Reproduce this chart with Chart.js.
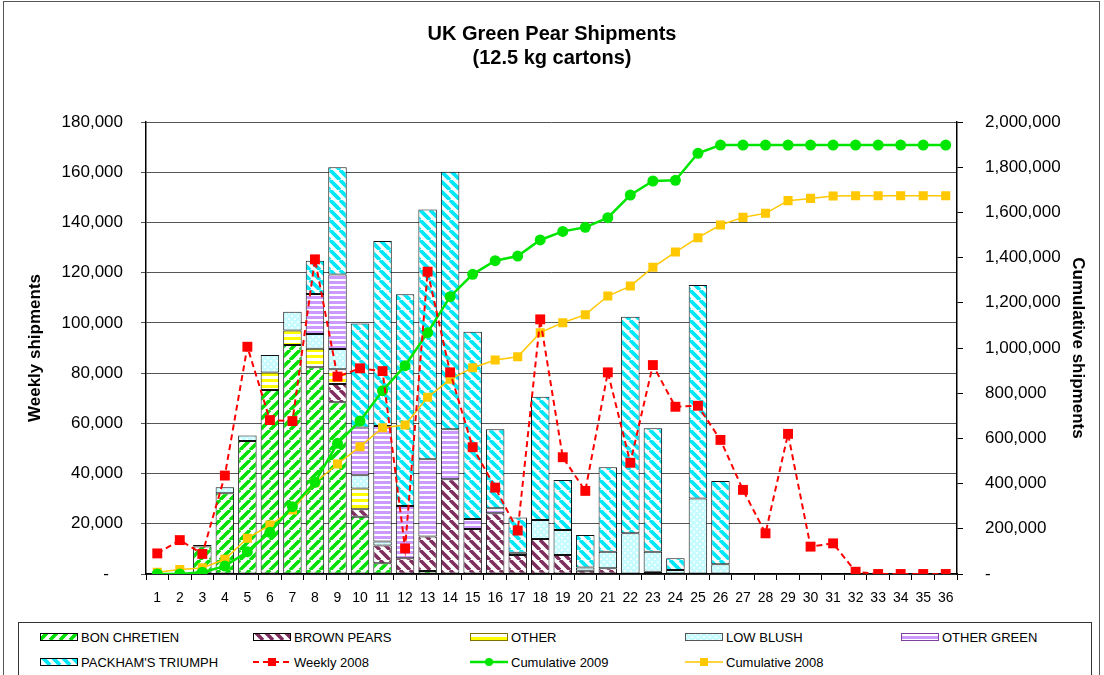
<!DOCTYPE html>
<html>
<head>
<meta charset="utf-8">
<script src="https://cdn.jsdelivr.net/npm/chart.js@4.4.1/dist/chart.umd.min.js"></script>
<style>
    html, body { margin: 0; padding: 0; background: #fff; }
    #wrap { position: relative; width: 1104px; height: 675px; overflow: hidden; }
    #frame { position: absolute; left: 3px; top: 1px; width: 1097px; height: 720px; border: 1px solid #555; box-sizing: border-box; pointer-events: none; }
    #legend { position: absolute; left: 18px; top: 622px; width: 1074px; height: 70px; border: 1px solid #333; box-sizing: border-box; background: #fff;
              font: 13px "Liberation Sans", Arial, sans-serif; color: #000; }
    .item { position: absolute; display: flex; align-items: center; white-space: nowrap; }
    .item canvas { margin-right: 3px; }
</style>
</head>
<body>
<div id="wrap">
    <canvas id="pears" width="1104" height="675"></canvas>
    <div id="frame"></div>
    <div id="legend"></div>
</div>
<script>
const weeks = ['1', '2', '3', '4', '5', '6', '7', '8', '9', '10', '11', '12', '13', '14', '15', '16', '17', '18',
    '19', '20', '21', '22', '23', '24', '25', '26', '27', '28', '29', '30', '31', '32', '33', '34', '35', '36'];

// weekly shipments 2009 by variety (cartons), weeks 1..26, nothing after
const bonChretien = [null, null, 11000, 32200, 53000, 73300, 91200, 82300, 68400, 22800, 4300, null, 1200];
const brownPears = [null, null, null, null, null, null, null, null, 7300, 3000, 7000, 6250, 13700, 37700, 17900, 24150,
    7600, 13900, 7600, 1300, 2300, null, 900];
const other = [null, null, null, null, null, 6900, 5800, 7400, 5800, 8250];
const lowBlush = [null, null, 500, 2300, 2200, 7000, 7400, 5850, 8100, 5300, 1600, null, null, null, null, null,
    900, 7600, 9900, 1300, 6600, 16200, 8000, 1600, 30100, 3850];
const otherGreen = [null, null, null, null, null, null, null, 16000, 29700, 19000, 46000, 20800, 30800, 19900, 4000, 2000];
const packhams = [null, null, null, null, null, null, null, 13200, 42700, 41400, 73700, 84400, 99500, 102600, 74600, 31450,
    14000, 49100, 19900, 12900, 33600, 86250, 49100, 4650, 85000, 33200];

const weekly2008 = [8200, 13500, 8000, 39200, 90500, 61300, 60900, 125300, 78600, 81900, 80800, 10200, 120400, 80300,
    50500, 34400, 17300, 101400, 46500, 33100, 80300, 44300, 83200, 66600, 67000, 53400, 33500, 16200, 55800, 10900,
    12200, 900, 0, 0, 0, 0];
const cumulative2009 = [0, 0, 8000, 35000, 98700, 184500, 297800, 405700, 578300, 677000, 811000, 921700, 1067800,
    1227000, 1326000, 1386400, 1407000, 1478000, 1516000, 1534000, 1576700, 1677000, 1739000, 1742000, 1861500, 1898000,
    1898000, 1898000, 1898000, 1898000, 1898000, 1898000, 1898000, 1898000, 1898000, 1898000];
const cumulative2008 = [8000, 20000, 27000, 65000, 158000, 216800, 283200, 404000, 486700, 563300, 647400, 659300,
    781800, 861500, 912800, 947000, 961600, 1067800, 1112000, 1147500, 1230000, 1274000, 1357000, 1424700, 1488000,
    1544000, 1578000, 1596000, 1652000, 1662000, 1672500, 1674000, 1674000, 1674000, 1674000, 1674000];

const FONT = '"Liberation Sans", Arial, sans-serif';

const tile = (w, h) => {
    const c = document.createElement('canvas');
    c.width = w; c.height = h;
    const g = c.getContext('2d');
    g.fillStyle = '#fff';
    g.fillRect(0, 0, w, h);
    return [c, g];
};

const diagonal = (color, dir, size, lw) => {
    const [c, g] = tile(size, size);
    g.strokeStyle = color;
    g.lineWidth = lw;
    g.beginPath();
    for (let k = -1; k <= 1; k++) {
        if (dir === '/') { g.moveTo(k * size, size); g.lineTo(k * size + size, 0); }
        else { g.moveTo(k * size, 0); g.lineTo(k * size + size, size); }
    }
    g.stroke();
    return g.createPattern(c, 'repeat');
};

const horizontal = (color, period, thick) => {
    const [c, g] = tile(4, period);
    g.fillStyle = color;
    g.fillRect(0, 1, 4, thick);
    return g.createPattern(c, 'repeat');
};

const checks = () => {
    const [c, g] = tile(6, 6);
    g.fillStyle = '#c6fbff';
    g.fillRect(0, 0, 6, 6);
    g.fillStyle = '#f2ffff';
    g.fillRect(0, 0, 2, 2);
    g.fillRect(3, 3, 2, 2);
    return g.createPattern(c, 'repeat');
};

const patterns = {
    bon: diagonal('#00e000', '/', 10, 3.6),
    brown: diagonal('#7f2f5f', '\\', 10, 3.6),
    other: horizontal('#ffff00', 6, 3),
    blush: checks(),
    otherGreen: horizontal('#cc99ff', 5, 3),
    packham: diagonal('#00e8f8', '\\', 10, 3.8)
};

const barSet = (label, data, fill, legendBorder) => ({
    type: 'bar',
    label: label,
    data: data,
    backgroundColor: fill,
    borderColor: '#111',
    borderWidth: 1,
    borderSkipped: false,
    barPercentage: 0.82,
    categoryPercentage: 1,
    yAxisID: 'y',
    stack: 'varieties',
    order: 5,
    legendBorder: legendBorder
});

const datasets = [
    barSet('BON CHRETIEN', bonChretien, patterns.bon, '#000'),
    barSet('BROWN PEARS', brownPears, patterns.brown, '#000'),
    barSet('OTHER', other, patterns.other, '#807000'),
    barSet('LOW BLUSH', lowBlush, patterns.blush, '#555'),
    barSet('OTHER GREEN', otherGreen, patterns.otherGreen, '#8040a0'),
    barSet("PACKHAM'S TRIUMPH", packhams, patterns.packham, '#000'),
    {
        type: 'line', label: 'Weekly 2008', data: weekly2008, yAxisID: 'y', stack: 'w2008', order: 0,
        borderColor: '#ff0000', borderWidth: 2, borderDash: [6, 4], tension: 0,
        pointStyle: 'rect', pointRadius: 7, pointBackgroundColor: '#ff0000', pointBorderColor: '#ff0000', pointBorderWidth: 0
    },
    {
        type: 'line', label: 'Cumulative 2009', data: cumulative2009, yAxisID: 'y1', order: 1,
        borderColor: '#00e600', borderWidth: 2.5, tension: 0,
        pointStyle: 'circle', pointRadius: 5.5, pointBackgroundColor: '#00e600', pointBorderColor: '#00e600', pointBorderWidth: 0
    },
    {
        type: 'line', label: 'Cumulative 2008', data: cumulative2008, yAxisID: 'y1', order: 2,
        borderColor: '#ffc800', borderWidth: 1.5, tension: 0,
        pointStyle: 'rect', pointRadius: 6.4, pointBackgroundColor: '#ffc800', pointBorderColor: '#ffc800', pointBorderWidth: 0
    }
];

const thousands = pad => v => v === 0 ? '-' + pad : v.toLocaleString('en-US');

const config = {
    type: 'bar',
    data: { labels: weeks, datasets: datasets },
    options: {
        responsive: false,
        animation: false,
        layout: { padding: { left: 0, right: 0, top: 0, bottom: 61 } },
        plugins: {
            legend: { display: false },
            tooltip: { enabled: false },
            title: {
                display: true,
                text: ['UK Green Pear Shipments', '(12.5 kg cartons)'],
                color: '#000',
                font: { family: FONT, size: 20, weight: 'bold', lineHeight: 1.2 },
                padding: { top: 22, bottom: 52 }
            }
        },
        scales: {
            x: {
                stacked: true,
                grid: { drawOnChartArea: false, offset: true, tickLength: 6, color: '#000' },
                border: { color: '#000', width: 1.5 },
                ticks: { color: '#000', font: { family: FONT, size: 14 }, padding: 10, maxRotation: 0, autoSkip: false },
                afterFit: s => { s.height = 40; }
            },
            y: {
                stacked: true,
                min: 0,
                max: 180000,
                ticks: { stepSize: 20000, color: '#000', font: { family: FONT, size: 17 }, padding: 18, callback: thousands('   ') },
                grid: { color: '#555', tickLength: 5 },
                border: { color: '#000', width: 1.5 },
                title: {
                    display: true, text: 'Weekly shipments', color: '#000',
                    font: { family: FONT, size: 17, weight: 'bold' }, padding: { top: 25, bottom: 0 }
                },
                afterFit: s => { s.width = 146; }
            },
            y1: {
                position: 'right',
                min: 0,
                max: 2000000,
                ticks: { stepSize: 200000, color: '#000', font: { family: FONT, size: 17 }, padding: 22, callback: thousands('') },
                grid: { drawOnChartArea: false, tickLength: 6, color: '#000' },
                border: { color: '#000', width: 1.5 },
                title: {
                    display: true, text: 'Cumulative shipments', color: '#000',
                    font: { family: FONT, size: 17, weight: 'bold' }, padding: { top: 16, bottom: 0 }
                },
                afterFit: s => { s.width = 147; }
            }
        }
    }
};

const ctx = document.getElementById('pears').getContext('2d');
const chart = new Chart(ctx, config);

// legend laid out in two rows of five like the spreadsheet one
const legendColumns = [39, 252, 469, 684, 900];
const legendRows = [636, 661];

const swatch = ds => {
    const c = document.createElement('canvas');
    c.width = 38; c.height = 14;
    const g = c.getContext('2d');
    if (ds.type === 'bar') {
        g.fillStyle = ds.backgroundColor;
        g.fillRect(0.5, 3.5, 37, 7);
        g.strokeStyle = ds.legendBorder;
        g.lineWidth = 1;
        g.strokeRect(0.5, 3.5, 37, 7);
    } else {
        g.strokeStyle = ds.borderColor;
        g.lineWidth = ds.borderWidth;
        g.setLineDash(ds.borderDash || []);
        g.beginPath();
        g.moveTo(0, 7);
        g.lineTo(38, 7);
        g.stroke();
        g.fillStyle = ds.pointBackgroundColor;
        g.beginPath();
        if (ds.pointStyle === 'circle') g.arc(19, 7, 4, 0, Math.PI * 2);
        else g.rect(15, 3, 8, 8);
        g.fill();
    }
    return c;
};

const buildLegend = () => {
    const box = document.getElementById('legend');
    chart.data.datasets.forEach((ds, i) => {
        const item = document.createElement('div');
        item.className = 'item';
        item.style.left = (legendColumns[i % 5] - 18) + 'px';
        item.style.top = (legendRows[Math.floor(i / 5)] - 622 - 8) + 'px';
        item.style.height = '16px';
        item.appendChild(swatch(ds));
        const text = document.createElement('span');
        text.textContent = ds.label;
        item.appendChild(text);
        box.appendChild(item);
    });
};
buildLegend();
</script>
</body>
</html>
